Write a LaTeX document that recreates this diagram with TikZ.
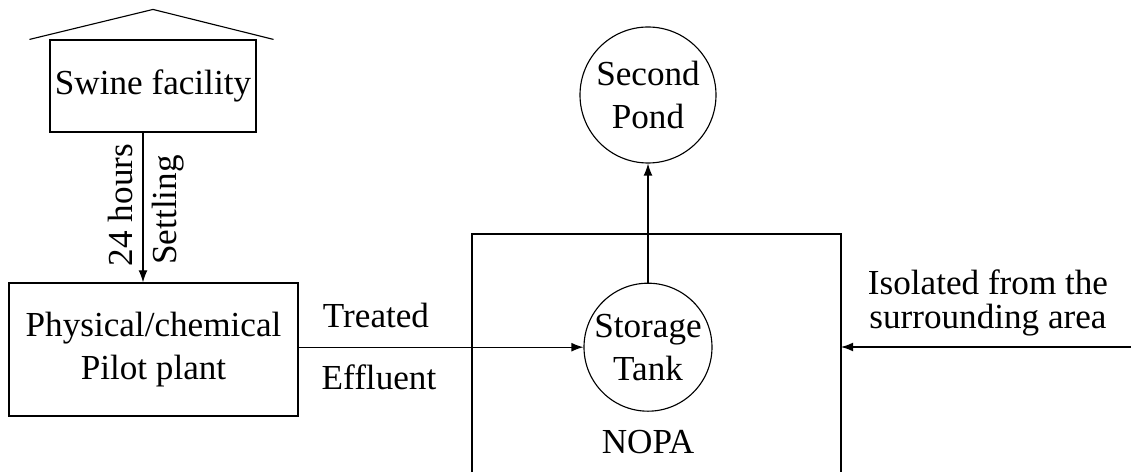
\documentclass[tikz,border=0pt]{standalone}
\usepackage{fontspec}
\setmainfont{Liberation Serif}
\usepackage{tikz}
\usetikzlibrary{
    arrows.meta,
    positioning,
    calc
}
\tikzset{
    % Base style for all nodes
    plain base/.style={
        font=\fontsize{25}{30.5}\selectfont,
        align=center,
        text=black,
        inner sep=0pt,
    },
    % Unit boxes - plain rectangles
    unit/.style={
        plain base,
        rectangle,
        draw,
        line width=0.8pt,
    },
    % Tanks and ponds - plain circles
    basin/.style={
        plain base,
        circle,
        draw,
        line width=0.8pt,
    },
    % Text set beside the lines
    note/.style={
        plain base,
    },
    % Flow arrow - thin line, small solid head
    arrow/.style={
        -{Latex[length=3mm, width=2.2mm]},
        line width=0.8pt,
    },
}

\begin{document}
\begin{tikzpicture}
    \useasboundingbox (0,0) rectangle (28.275,11.8);

    \node (swine) [unit, minimum width=5.15cm, minimum height=2.3cm] at (3.825,9.65) {Swine facility};
    \node (plant) [unit, minimum width=7.225cm, minimum height=3.325cm] at (3.8375,3.0625) {Physical/chemical\\Pilot plant};
    \node (tank) [basin, minimum size=3.2cm] at (16.2,3.12) {Storage\\Tank};
    \node (pond) [basin, minimum size=3.4cm] at (16.2,9.425) {Second\\Pond};
    \node (nopa) [note, below=0.45cm of tank] {NOPA};

    \node (hours) [note, rotate=90] at (3.0,6.675) {24 hours};
    \node (settling) [note, rotate=90] at (4.2,6.55) {Settling};
    \node (treated) [note] at (9.4,3.925) {Treated};
    \node (effluent) [note] at (9.475,2.375) {Effluent};
    \node (isolated) [note, font=\fontsize{25}{24}\selectfont] at (24.7,4.22) {Isolated from the\\surrounding area};

    % roof over the swine facility
    \draw [line width=0.8pt] ([xshift=-0.5cm]swine.north west) -- ([yshift=0.75cm]swine.north) -- ([xshift=0.425cm]swine.north east);

    % NOPA area, open at the bottom
    \coordinate (nopa sw) at (11.8,0);
    \coordinate (nopa ne) at (21.025,5.95);
    \coordinate (outside) at (28.275,3.125);
    \draw [line width=0.8pt] (nopa sw) |- (nopa ne) -- (nopa ne |- nopa sw);

    \draw [arrow] ([xshift=-2.5mm]swine.south) -- ([xshift=-2.5mm]swine.south |- plant.north);
    \draw [arrow] (plant.east |- tank.west) -- (tank.west);
    \draw [arrow] (tank.north) -- (pond.south);
    \draw [arrow] (outside) -- (outside -| nopa ne);
\end{tikzpicture}
\end{document}
